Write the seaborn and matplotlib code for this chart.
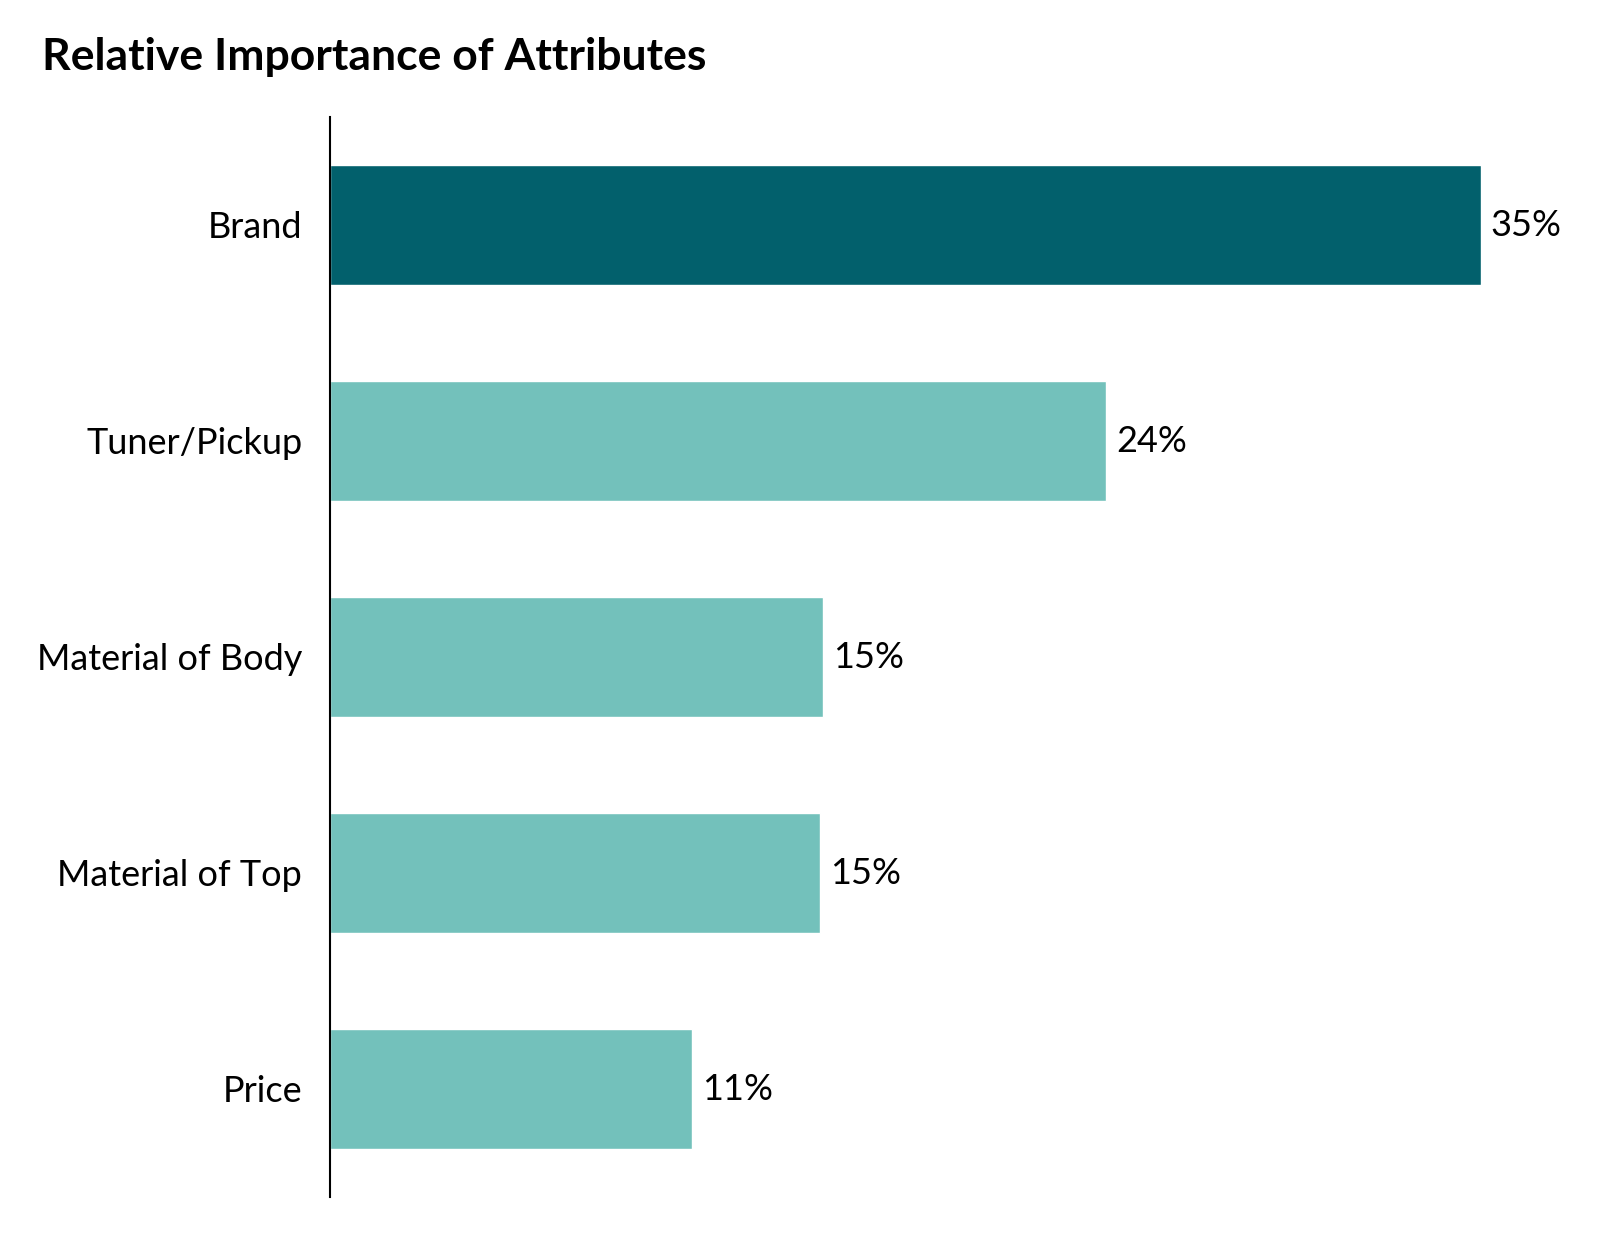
import matplotlib
matplotlib.use("Agg")
import matplotlib.pyplot as plt
import seaborn as sns
import pandas as pd

# Dados
atributos = ["Brand", "Tuner/Pickup", "Material of Body", "Material of Top", "Price"]
importancia = [35.0, 23.6, 15.0, 14.9, 11.0]
rotulos = ["35%", "24%", "15%", "15%", "11%"]
cores = ["#02606C", "#73C1BB", "#73C1BB", "#73C1BB", "#73C1BB"]

sns.set_style("white")
plt.rcParams['font.family'] = ['Lato', 'DejaVu Sans']

df = pd.DataFrame({"atributo": atributos, "valor": importancia})

fig = plt.figure(figsize=(16.02, 12.37), dpi=100)
ax = fig.add_axes([330 / 1602, 40 / 1237, 1151 / 1602, 1080 / 1237])

sns.barplot(data=df, x="valor", y="atributo", hue="atributo", palette=cores,
            legend=False, width=0.556, saturation=1, ax=ax)

ax.set_xlim(0, 35.0)
ax.set_ylim(4.5, -0.5)
ax.set_xlabel("")
ax.set_ylabel("")
ax.set_xticks([])
for lado in ["top", "right", "bottom"]:
    ax.spines[lado].set_visible(False)
ax.spines["left"].set_color("black")
ax.spines["left"].set_linewidth(1.5)
ax.tick_params(axis="y", length=0, pad=20, labelsize=26, labelcolor="black")

for i, (v, txt) in enumerate(zip(importancia, rotulos)):
    ax.text(v + 0.3, i, txt, va="center", ha="left", fontsize=26,
            color="black", clip_on=False)

fig.text(42 / 1602, 1 - 57 / 1237, "Relative Importance of Attributes",
         fontsize=32, fontweight="bold", va="center", ha="left", color="black")

fig.savefig("out.png", dpi=100)
